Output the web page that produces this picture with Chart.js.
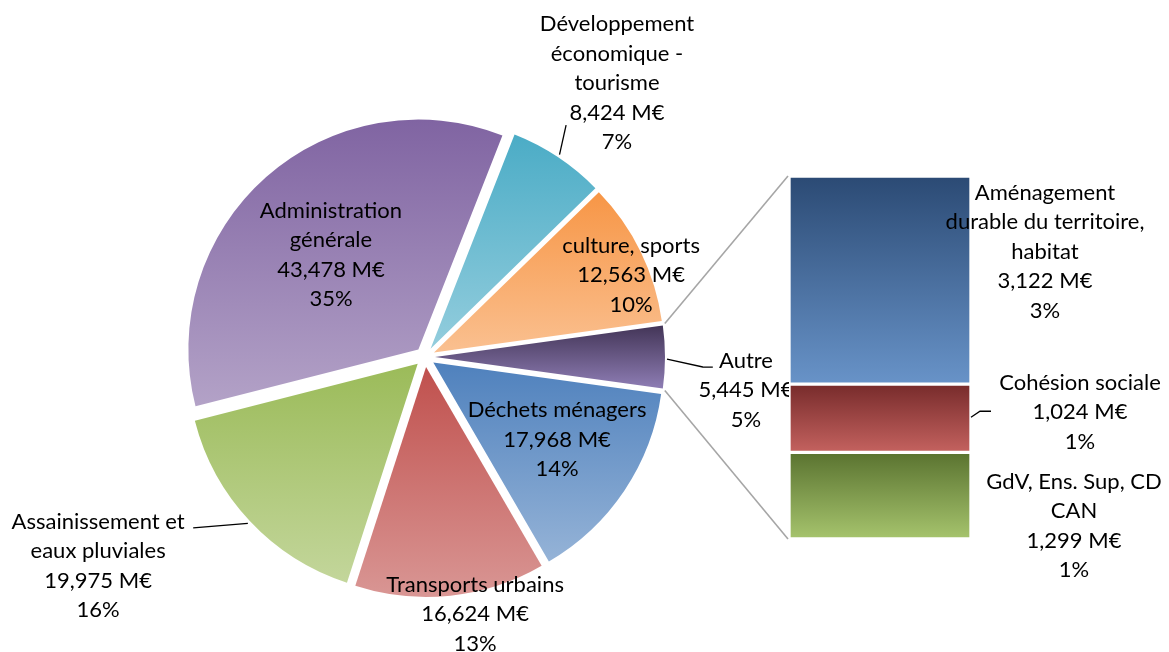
<!DOCTYPE html>
<html>
<head>
<meta charset="utf-8">
<script src="https://cdn.jsdelivr.net/npm/chart.js@4.4.1/dist/chart.umd.min.js"></script>
<style>
  html, body { margin: 0; padding: 0; background: #fff; }
  #wrap { position: relative; width: 1169px; height: 652px; overflow: hidden; }
  #wrap canvas { position: absolute; left: 0; top: 0; }
  #bar { pointer-events: none; }
</style>
</head>
<body>
<div id="wrap">
  <canvas id="pie" width="1169" height="652"></canvas>
  <canvas id="bar" width="1169" height="652"></canvas>
</div>
<script>
// données (M€)
const pieNames = [
  ['Déchets ménagers'],
  ['Transports urbains'],
  ['Assainissement et', 'eaux pluviales'],
  ['Administration', 'générale'],
  ['Développement', 'économique -', 'tourisme'],
  ['culture, sports'],
  ['Autre']
]
const pieValues = [17.968, 16.624, 19.975, 43.478, 8.424, 12.563, 5.445]
const piePercents = ['14%', '13%', '16%', '35%', '7%', '10%', '5%']

// détail de "Autre", du bas vers le haut de la barre
const barNames = [
  ['GdV, Ens. Sup, CD', 'CAN'],
  ['Cohésion sociale'],
  ['Aménagement', 'durable du territoire,', 'habitat']
]
const barValues = [1.299, 1.024, 3.122]
const barPercents = ['1%', '1%', '3%']

// couleurs (dégradé haut -> bas)
const pieTop = ['#4f81bd', '#c0504d', '#9bbb59', '#8064a2', '#4bacc6', '#f79646', '#433557']
const pieBottom = ['#95b3d7', '#d99694', '#c3d69b', '#b3a2c7', '#93cddd', '#fac090', '#8e7db4']
const barTop = ['#5a7330', '#772b2b', '#2b4a74']
const barBottom = ['#a6c46d', '#c4625f', '#6893c8']

// placement des étiquettes : [décalage angulaire en degrés, distance en rayons]
const pieLabelSpots = [[-1.85, 0.677], [-4.9, 1.14], [10.6, 1.687], [-1.25, 0.603], [1.4, 1.455], [4.4, 0.964], [5.9, 1.403]]
// traits de rappel : [décalage angulaire, distance au-delà du rayon]
const pieLeaders = [null, null, [[0, 13], [6.8, 58]], null, [[0, 13], [-2.3, 41.5]], null, [[0.5, 12], [2.06, 48], [2.0, 58]]]
// étiquettes de la barre : décalage depuis le centre du segment
const barLabelShift = [[194, 30], [200, -6], [165, -28.5]]
const barLeaders = [null, [[0, -1], [9, -7], [20, -7]], null]

const EXPLODE = 10
const FONT = '22px Lato'
const LINE_H = 29.5

const fmt = v => v.toFixed(3).replace('.', ',') + ' M€'
const rad = d => d * Math.PI / 180

function drawBlock(ctx, lines, cx, cy) {
  ctx.save()
  ctx.font = FONT
  ctx.fillStyle = '#000'
  ctx.textAlign = 'center'
  ctx.textBaseline = 'middle'
  const y0 = cy - (lines.length - 1) * LINE_H / 2
  lines.forEach((t, j) => ctx.fillText(t, cx, y0 + j * LINE_H))
  ctx.restore()
}

function drawPolyline(ctx, pts, color, width) {
  ctx.save()
  ctx.strokeStyle = color
  ctx.lineWidth = width
  ctx.beginPath()
  pts.forEach((p, j) => (j ? ctx.lineTo(p[0], p[1]) : ctx.moveTo(p[0], p[1])))
  ctx.stroke()
  ctx.restore()
}

function makeGradient(ctx, top, bottom, c1, c2) {
  const g = ctx.createLinearGradient(0, top, 0, bottom)
  g.addColorStop(0, c1)
  g.addColorStop(1, c2)
  return g
}

// étendue verticale d'un secteur
function arcExtent(a) {
  const ys = [a.y, a.y + Math.sin(a.startAngle) * a.outerRadius, a.y + Math.sin(a.endAngle) * a.outerRadius]
  const TAU = Math.PI * 2
  ;[Math.PI / 2, -Math.PI / 2].forEach(t => {
    let k = t
    while (k < a.startAngle) k += TAU
    if (k <= a.endAngle) ys.push(a.y + Math.sin(k) * a.outerRadius)
  })
  return [Math.min(...ys), Math.max(...ys)]
}

const gradientPlugin = {
  id: 'gradientFill',
  beforeDatasetsDraw(chart) {
    const ctx = chart.ctx
    chart.data.datasets.forEach((ds, di) => {
      const meta = chart.getDatasetMeta(di)
      meta.data.forEach((el, i) => {
        let top, bottom, c1, c2
        if (meta.type === 'pie') {
          const p = el.getProps(['x', 'y', 'startAngle', 'endAngle', 'outerRadius'], true)
          ;[top, bottom] = arcExtent(p)
          c1 = pieTop[i]
          c2 = pieBottom[i]
        } else {
          const p = el.getProps(['y', 'base'], true)
          top = Math.min(p.y, p.base)
          bottom = Math.max(p.y, p.base)
          c1 = barTop[di]
          c2 = barBottom[di]
        }
        if (el.options && !Object.isFrozen(el.options)) {
          el.options.backgroundColor = makeGradient(ctx, top, bottom, c1, c2)
        }
      })
    })
  }
}

// secteurs éclatés : chaque arc est dessiné décalé le long de sa bissectrice
const explodePlugin = {
  id: 'explode',
  beforeDatasetsDraw(chart) {
    const ctx = chart.ctx
    chart.getDatasetMeta(0).data.forEach(arc => {
      const mid = (arc.startAngle + arc.endAngle) / 2
      ctx.save()
      ctx.translate(Math.cos(mid) * EXPLODE, Math.sin(mid) * EXPLODE)
      arc.draw(ctx, chart.chartArea)
      ctx.restore()
    })
    return false
  }
}

const pieLabelPlugin = {
  id: 'pieLabels',
  afterDraw(chart) {
    const ctx = chart.ctx
    chart.getDatasetMeta(0).data.forEach((arc, i) => {
      const p = arc.getProps(['x', 'y', 'startAngle', 'endAngle', 'outerRadius'], true)
      const mid = (p.startAngle + p.endAngle) / 2
      const [shift, k] = pieLabelSpots[i]
      const a = mid + rad(shift)
      const cx = p.x + Math.cos(a) * p.outerRadius * k
      const cy = p.y + Math.sin(a) * p.outerRadius * k
      drawBlock(ctx, pieNames[i].concat([fmt(pieValues[i]), piePercents[i]]), cx, cy)
      if (pieLeaders[i]) {
        const pts = pieLeaders[i].map(([s, r]) => [
          p.x + Math.cos(mid + rad(s)) * (p.outerRadius + r),
          p.y + Math.sin(mid + rad(s)) * (p.outerRadius + r)
        ])
        drawPolyline(ctx, pts, '#000', 1.3)
      }
    })
  }
}

const total = pieValues.reduce((s, v) => s + v, 0)
const autreIndex = pieValues.length - 1

const pieChart = new Chart(document.getElementById('pie'), {
  type: 'pie',
  data: {
    labels: pieNames.map(n => n.join(' ')),
    datasets: [{
      data: pieValues,
      backgroundColor: pieTop.slice(),
      borderWidth: 0,
      offset: 0
    }]
  },
  options: {
    responsive: false,
    animation: false,
    events: [],
    // "Autre" centré à 3 heures
    rotation: 90 + (pieValues[autreIndex] / total) * 180,
    radius: 230,
    layout: { padding: { left: 175, right: 494, top: 107, bottom: 45 } },
    plugins: { legend: { display: false }, tooltip: { enabled: false } }
  },
  plugins: [gradientPlugin, explodePlugin, pieLabelPlugin]
})

const barLabelPlugin = {
  id: 'barLabels',
  afterDatasetsDraw(chart) {
    const ctx = chart.ctx
    // lignes de liaison secteur "Autre" -> barre
    const arc = pieChart.getDatasetMeta(0).data[autreIndex]
    const p = arc.getProps(['x', 'y', 'startAngle', 'endAngle', 'outerRadius'], true)
    const mid = (p.startAngle + p.endAngle) / 2
    const ox = p.x + Math.cos(mid) * EXPLODE
    const oy = p.y + Math.sin(mid) * EXPLODE
    const topBar = chart.getDatasetMeta(barValues.length - 1).data[0]
    const lowBar = chart.getDatasetMeta(0).data[0]
    drawPolyline(ctx, [
      [ox + Math.cos(p.startAngle) * p.outerRadius + 2, oy + Math.sin(p.startAngle) * p.outerRadius - 2],
      [topBar.x - topBar.width / 2 - 1, topBar.y]
    ], '#a6a6a6', 1.6)
    drawPolyline(ctx, [
      [ox + Math.cos(p.endAngle) * p.outerRadius + 2, oy + Math.sin(p.endAngle) * p.outerRadius + 2],
      [lowBar.x - lowBar.width / 2 - 1, lowBar.base]
    ], '#a6a6a6', 1.6)

    chart.data.datasets.forEach((ds, di) => {
      const el = chart.getDatasetMeta(di).data[0]
      const cy = (el.y + el.base) / 2
      const [dx, dy] = barLabelShift[di]
      drawBlock(ctx, barNames[di].concat([fmt(barValues[di]), barPercents[di]]), el.x + dx, cy + dy)
      if (barLeaders[di]) {
        const right = el.x + el.width / 2
        drawPolyline(ctx, barLeaders[di].map(([x, y]) => [right + x, cy + y]), '#000', 1.3)
      }
    })
  }
}

new Chart(document.getElementById('bar'), {
  type: 'bar',
  data: {
    labels: ['Autre'],
    datasets: barValues.map((v, i) => ({
      label: barNames[i].join(' '),
      data: [v],
      backgroundColor: [barTop[i]],
      borderColor: ['#ffffff'],
      borderWidth: 2,
      borderSkipped: false,
      barPercentage: 1,
      categoryPercentage: 1
    }))
  },
  options: {
    responsive: false,
    animation: false,
    events: [],
    layout: { padding: { left: 789, right: 198, top: 176, bottom: 113 } },
    scales: {
      x: { display: false, stacked: true },
      y: { display: false, stacked: true, min: 0, max: barValues.reduce((s, v) => s + v, 0) }
    },
    plugins: { legend: { display: false }, tooltip: { enabled: false } }
  },
  plugins: [gradientPlugin, barLabelPlugin]
})
</script>
</body>
</html>
